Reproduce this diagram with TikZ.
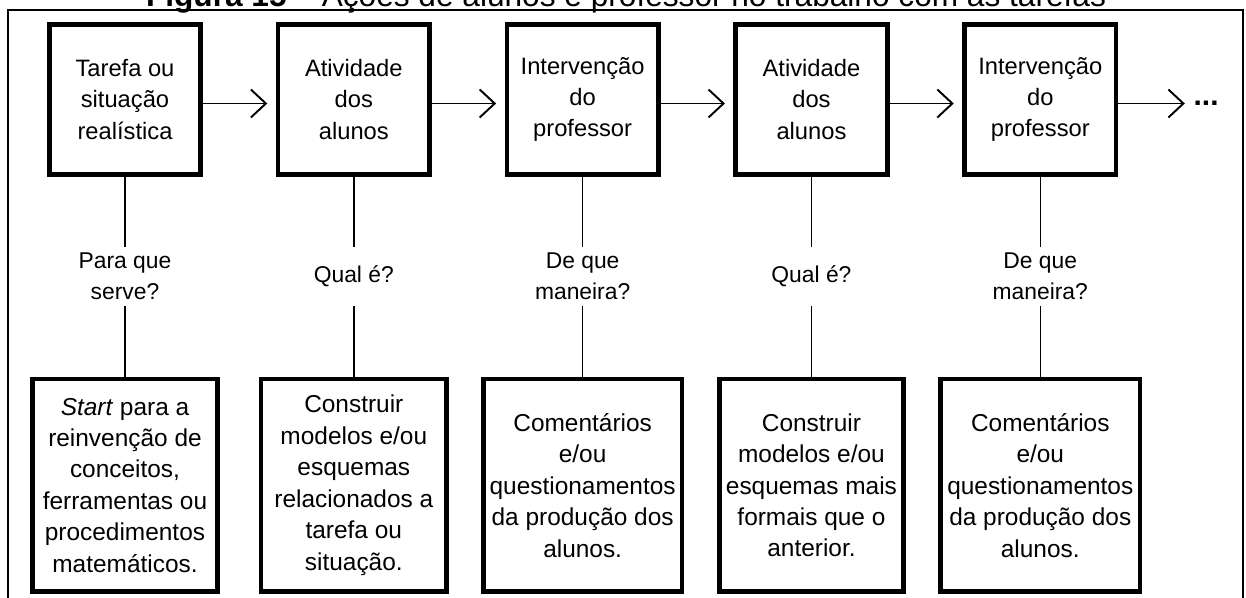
\documentclass[tikz,border=0pt]{standalone}
\usepackage{fontspec}
\setmainfont{Liberation Sans}
\usepackage{tikz}
\usetikzlibrary{positioning,arrows.meta}

\newcommand{\boxfont}{\fontsize{13.5}{17.9}\selectfont}
\newcommand{\resfont}{\fontsize{13.9}{17.9}\selectfont}
\newcommand{\askfont}{\fontsize{13}{17.9}\selectfont}

\tikzstyle{stagebox} = [rectangle, draw=black, line width=2.6pt,
                        minimum width=3.03cm, minimum height=3.01cm,
                        align=center, font=\boxfont]
\tikzstyle{resultbox} = [
    rectangle,                 % Shape
    draw=black,                % Border color
    line width=2.6pt,          % Heavy border
    minimum height=4.25cm,     % Height
    align=center,              % Centered lines
    font=\resfont              % Font size
]
\tikzstyle{question} = [minimum height=1.16cm, inner sep=0pt, align=center, font=\askfont]
\tikzstyle{arrow} = [line width=1.1pt, -{Straight Barb[length=0.3cm, width=0.56cm]}, shorten >=0.17cm]
\tikzstyle{link} = [line width=0.8pt]

\begin{document}
\begin{tikzpicture}[node distance=1.455cm]
		\useasboundingbox (0,0) rectangle (24.92,-11.96);

		% Caption, cut by the top edge
		\node[anchor=base, font=\fontsize{18}{22}\selectfont] (title) at (12.52,-0.14)
			{\textbf{Figura 15} – Ações de alunos e professor no trabalho com as tarefas};

		% Frame
		\draw[line width=1.1pt] (0.16,-12.2) -- (0.16,-0.2) -- (24.86,-0.2) -- (24.86,-12.2);

		% Top row
		\node[stagebox] (tarefa) at (2.50,-1.99) {Tarefa ou\\situação\\realística};
		\node[stagebox, right=of tarefa] (ativ1) {Atividade\\dos\\alunos};
		\node[stagebox, right=of ativ1] (interv1) {Intervenção\\do\\professor};
		\node[stagebox, right=of interv1] (ativ2) {Atividade\\dos\\alunos};
		\node[stagebox, right=of ativ2] (interv2) {Intervenção\\do\\professor};
		\node[right=1.5cm of interv2, yshift=-0.08cm, inner sep=0pt, font=\fontsize{17}{20}\selectfont\bfseries] (etc) {...};

		% Questions
		\node[question, below=1.4cm of tarefa] (q_tarefa) {Para que\\serve?};
		\node[question, below=1.4cm of ativ1] (q_ativ1) {Qual é?};
		\node[question, below=1.4cm of interv1] (q_interv1) {De que\\maneira?};
		\node[question, below=1.4cm of ativ2] (q_ativ2) {Qual é?};
		\node[question, below=1.4cm of interv2] (q_interv2) {De que\\maneira?};

		% Bottom row
		\node[resultbox, minimum width=3.69cm, below=1.42cm of q_tarefa] (r_tarefa)
			{\textit{Start} para a\\reinvenção de\\conceitos,\\ferramentas ou\\procedimentos\\matemáticos.};
		\node[resultbox, minimum width=3.71cm, below=1.42cm of q_ativ1] (r_ativ1)
			{Construir\\modelos e/ou\\esquemas\\relacionados a\\tarefa ou\\situação.};
		\node[resultbox, minimum width=3.97cm, below=1.42cm of q_interv1] (r_interv1)
			{Comentários\\e/ou\\questionamentos\\da produção dos\\alunos.};
		\node[resultbox, minimum width=3.67cm, below=1.42cm of q_ativ2] (r_ativ2)
			{Construir\\modelos e/ou\\esquemas mais\\formais que o\\anterior.};
		\node[resultbox, minimum width=3.99cm, below=1.42cm of q_interv2] (r_interv2)
			{Comentários\\e/ou\\questionamentos\\da produção dos\\alunos.};

		% Arrows
		\draw[arrow] ([yshift=-0.08cm]tarefa.east) -- ([yshift=-0.08cm]ativ1.west);
		\draw[arrow] ([yshift=-0.08cm]ativ1.east) -- ([yshift=-0.08cm]interv1.west);
		\draw[arrow] ([yshift=-0.08cm]interv1.east) -- ([yshift=-0.08cm]ativ2.west);
		\draw[arrow] ([yshift=-0.08cm]ativ2.east) -- ([yshift=-0.08cm]interv2.west);
		\draw[arrow] ([yshift=-0.08cm]interv2.east) -- (etc.west);

		% Lines
		\draw[link] (tarefa) -- (q_tarefa);
		\draw[link] (q_tarefa) -- (r_tarefa);
		\draw[link] (ativ1) -- (q_ativ1);
		\draw[link] (q_ativ1) -- (r_ativ1);
		\draw[link] (interv1) -- (q_interv1);
		\draw[link] (q_interv1) -- (r_interv1);
		\draw[link] (ativ2) -- (q_ativ2);
		\draw[link] (q_ativ2) -- (r_ativ2);
		\draw[link] (interv2) -- (q_interv2);
		\draw[link] (q_interv2) -- (r_interv2);
	\end{tikzpicture}
\end{document}
